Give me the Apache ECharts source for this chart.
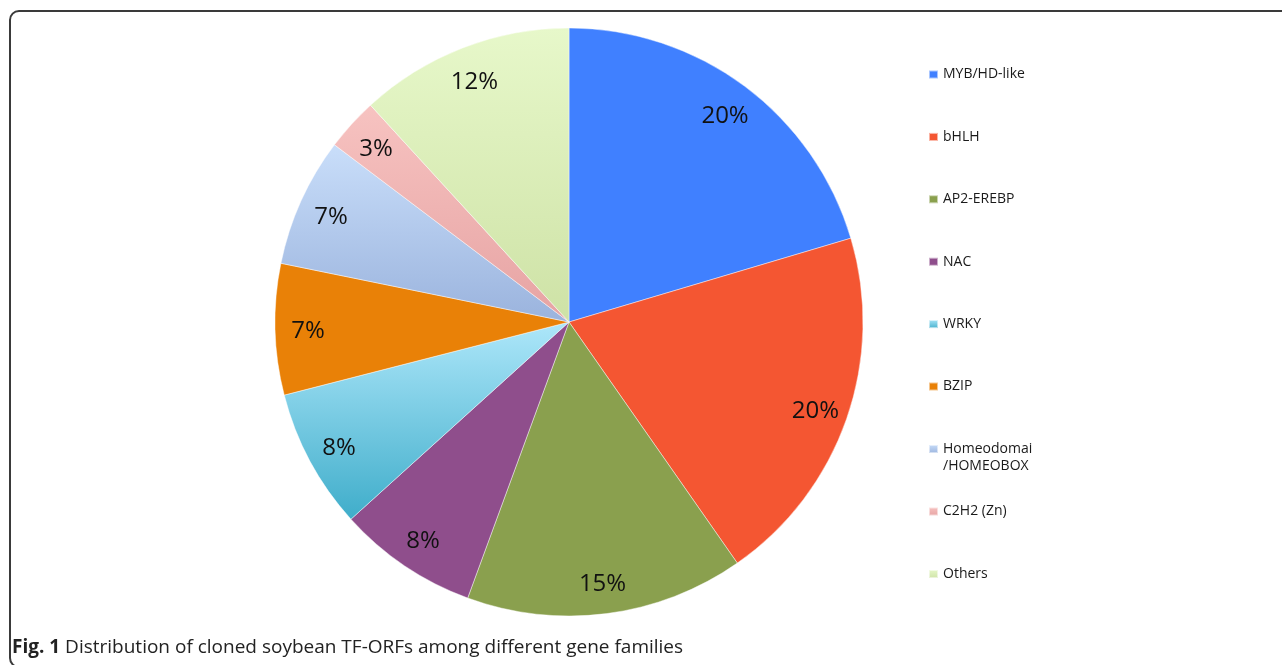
<!DOCTYPE html>
<html>
<head>
<meta charset="utf-8">
<script src="https://cdn.jsdelivr.net/npm/echarts@6/dist/echarts.min.js"></script>
<style>
  html, body { margin: 0; padding: 0; background: #fff; }
  #chart { width: 1282px; height: 665px; }
</style>
</head>
<body>
<div id="chart"></div>
<script>
// Cloned soybean TF-ORFs by gene family (share of total, %)
const families = ['MYB/HD-like', 'bHLH', 'AP2-EREBP', 'NAC', 'WRKY', 'BZIP',
                  'Homeodomai\n/HOMEOBOX', 'C2H2 (Zn)', 'Others'];
const shares = [20.4, 19.9, 15.3, 7.7, 7.7, 7.2, 7.1, 2.9, 11.8];
const caption = 'Distribution of cloned soybean TF-ORFs among different gene families';

// Slice fills: one colour = flat, two colours = top-to-bottom gradient
const palette = [
  ['#4080FF'],
  ['#F45632'],
  ['#8AA04E'],
  ['#8F4E8C'],
  ['#AEE7FA', '#3FADCA'],
  ['#E98107'],
  ['#C9DEFA', '#9AB3DD'],
  ['#F7C3C1', '#E6A3A3'],
  ['#E7F8CA', '#CEE2A6']
];

function fill(c) {
  if (c.length === 1) return c[0];
  return new echarts.graphic.LinearGradient(0, 0, 0, 1, [
    { offset: 0, color: c[0] }, { offset: 1, color: c[1] }
  ]);
}

const pieData = families.map((name, i) => ({
  name: name,
  value: shares[i],
  itemStyle: { color: fill(palette[i]) }
}));
const labelData = families.map((name, i) => ({ name: name, value: shares[i] }));

const CX = 569, CY = 322, R = 294;
const legendText = {
  color: '#1a1a1a', fontSize: 14, fontFamily: 'Open Sans', lineHeight: 17
};
const legendBase = {
  orient: 'vertical', left: 928, padding: 0,
  itemWidth: 9, itemHeight: 8, icon: 'rect',
  textStyle: legendText, selectedMode: false
};

const chart = echarts.init(document.getElementById('chart'), null, { renderer: 'canvas' });
chart.setOption({
  animation: false,
  backgroundColor: '#fff',
  legend: [
    Object.assign({}, legendBase, { top: 66, itemGap: 45.4, data: families.slice(0, 6) }),
    // two-line entry: a blank first line keeps the icon level with "Homeodomai"
    Object.assign({}, legendBase, { top: 423.5, formatter: ' \n{name}', data: [families[6]] }),
    Object.assign({}, legendBase, { top: 503, itemGap: 45.5, data: families.slice(7) })
  ],
  series: [
    {
      type: 'pie',
      center: [CX, CY],
      radius: [0, R],
      startAngle: 90,
      clockwise: true,
      silent: true,
      label: { show: false },
      labelLine: { show: false },
      itemStyle: { borderColor: 'rgba(255,255,255,0.55)', borderWidth: 0.8 },
      emphasis: { disabled: true },
      data: pieData
    },
    {
      // transparent ring that carries the percentage labels near the rim
      type: 'pie',
      center: [CX, CY],
      radius: [222, R],
      startAngle: 90,
      clockwise: true,
      silent: true,
      percentPrecision: 0,
      itemStyle: { color: 'rgba(0,0,0,0)', borderWidth: 0 },
      emphasis: { disabled: true },
      labelLine: { show: false },
      label: {
        show: true,
        position: 'inside',
        formatter: '{d}%',
        color: '#111',
        fontSize: 24,
        fontFamily: 'Open Sans',
        offset: [0, 3]
      },
      data: labelData
    }
  ],
  graphic: [
    {
      type: 'rect',
      silent: true,
      shape: { x: 10, y: 11, width: 1300, height: 656, r: 9 },
      style: { fill: 'none', stroke: '#3a3a3a', lineWidth: 2 }
    },
    {
      type: 'text',
      left: 12,
      top: 638.5,
      style: {
        text: '{b|Fig. 1} ' + caption,
        fontFamily: 'Open Sans',
        fontSize: 19,
        fill: '#222',
        rich: { b: { fontFamily: 'Open Sans', fontSize: 19, fontWeight: 'bold', fill: '#222' } }
      }
    }
  ]
});
</script>
</body>
</html>
